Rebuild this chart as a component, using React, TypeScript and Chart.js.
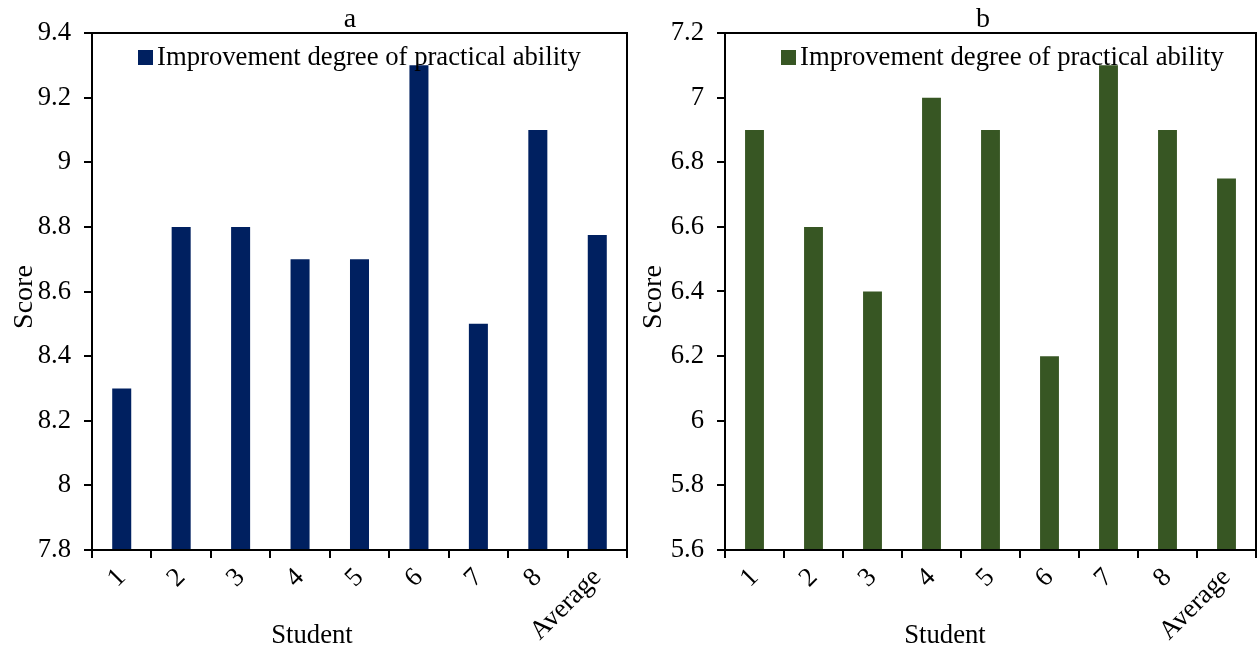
import React, { useEffect, useRef } from "react";
import { Chart, registerables } from "chart.js";

Chart.register(...registerables);

const categories = ["1", "2", "3", "4", "5", "6", "7", "8", "Average"];
const seriesName = "Improvement degree of practical ability";
const valuesA = [8.3, 8.8, 8.8, 8.7, 8.7, 9.3, 8.5, 9.1, 8.775];
const valuesB = [6.9, 6.6, 6.4, 7.0, 6.9, 6.2, 7.1, 6.9, 6.75];
const yRangeA = [7.8, 9.4];
const yRangeB = [5.6, 7.2];
const titleA = "a";
const titleB = "b";
const xTitle = "Student";
const yTitle = "Score";

const FONT = "'Liberation Serif', 'Times New Roman', serif";
const FS = 26.7;

type PanelProps = {
  values: number[];
  range: number[];
  color: string;
  title: string;
  yAxisWidth: number;
  titleX: number;
  legendX: number;
  xTitleX: number;
};

function Panel({ values, range, color, title, yAxisWidth, titleX, legendX, xTitleX }: PanelProps) {
  const ref = useRef<HTMLCanvasElement | null>(null);
  useEffect(() => {
    if (!ref.current) return;
    const decor = {
      id: "decor",
      afterDraw(chart: any) {
        const { ctx, chartArea } = chart;
        ctx.save();
        // frame
        ctx.strokeStyle = "#000";
        ctx.lineWidth = 2;
        ctx.strokeRect(chartArea.left, chartArea.top, chartArea.right - chartArea.left, chartArea.bottom - chartArea.top);
        // title
        ctx.fillStyle = "#000";
        ctx.font = `28px ${FONT}`;
        ctx.textAlign = "center";
        ctx.textBaseline = "alphabetic";
        ctx.fillText(title, titleX, 27);
        // legend
        ctx.font = `${FS}px ${FONT}`;
        ctx.fillStyle = color;
        ctx.fillRect(legendX, 50, 15, 15);
        ctx.fillStyle = "#000";
        ctx.textAlign = "left";
        ctx.fillText(seriesName, legendX + 19, 65);
        // x title
        ctx.textAlign = "center";
        ctx.fillText(xTitle, xTitleX, 643);
        // y title
        ctx.font = `28px ${FONT}`;
        ctx.translate(32, 297);
        ctx.rotate(-Math.PI / 2);
        ctx.fillText(yTitle, 0, 0);
        ctx.restore();
      },
    };
    const chart = new Chart(ref.current, {
      type: "bar",
      data: {
        labels: categories,
        datasets: [
          {
            label: seriesName,
            data: values,
            backgroundColor: color,
            barPercentage: 0.32,
            categoryPercentage: 1,
          },
        ],
      },
      options: {
        animation: false,
        responsive: false,
        layout: { padding: { top: 33, right: 2, left: 0, bottom: 0 } },
        plugins: { legend: { display: false }, title: { display: false }, tooltip: { enabled: false } },
        scales: {
          x: {
            afterFit: (s: any) => {
              s.height = 97;
            },
            border: { display: true, color: "#000", width: 2 },
            grid: { offset: true, drawOnChartArea: false, drawTicks: true, tickLength: 8, color: "#000", lineWidth: 2 },
            ticks: {
              autoSkip: false,
              minRotation: 45,
              maxRotation: 45,
              padding: 4,
              color: "#000",
              font: { family: FONT, size: FS },
            },
          },
          y: {
            min: range[0],
            max: range[1],
            afterFit: (s: any) => {
              s.width = yAxisWidth;
            },
            border: { display: true, color: "#000", width: 2 },
            grid: { drawOnChartArea: false, drawTicks: true, tickLength: 8, color: "#000", lineWidth: 2 },
            ticks: {
              stepSize: 0.2,
              padding: 13,
              color: "#000",
              font: { family: FONT, size: FS },
              callback: (v: any) => String(Number(Number(v).toFixed(1))),
            },
          },
        },
      },
      plugins: [decor],
    });
    return () => chart.destroy();
  }, []);
  return <canvas ref={ref} width={629} height={647} style={{ display: "block", width: 629, height: 647 }} />;
}

export default function App() {
  return (
    <div style={{ position: "fixed", left: 0, top: 0, width: 1258, height: 647, background: "#fff", display: "flex" }}>
      <Panel values={valuesA} range={yRangeA} color="#002060" title={titleA} yAxisWidth={92} titleX={350} legendX={138} xTitleX={312} />
      <Panel values={valuesB} range={yRangeB} color="#375623" title={titleB} yAxisWidth={96} titleX={354} legendX={152} xTitleX={316} />
    </div>
  );
}
